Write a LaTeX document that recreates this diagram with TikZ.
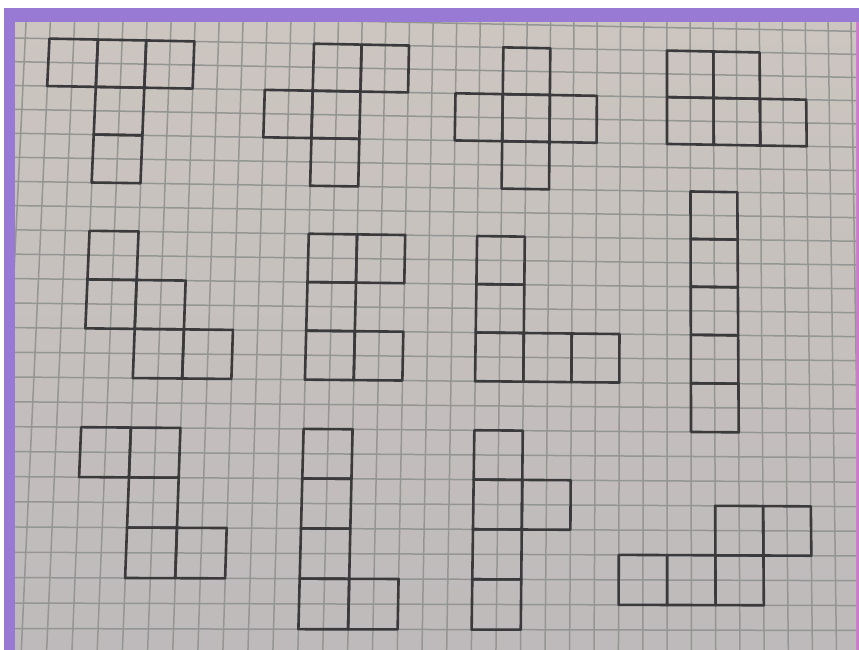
\documentclass[tikz,border=0pt]{standalone}
\usepackage{xcolor}
\usepackage{tikz}

\definecolor{papertop}{RGB}{204,197,192}
\definecolor{paperbot}{RGB}{190,186,187}
\definecolor{gridgray}{RGB}{148,150,147}
\definecolor{ink}{RGB}{58,57,60}
\definecolor{desk}{RGB}{152,121,212}
\definecolor{deskedge}{RGB}{205,120,205}

\tikzset{declare function={
  px(\k,\m)=3.56-1.223*(\m)+23.59*(\k)+0.044*(\k)*(\m)+0.02*((\k)-4)*(34-(\k));
  py(\k,\m)=37.7+0.46*(\k)+(23.654-0.0168*(\k))*(\m)+0.04*(\m)*(\m);}}

\newcommand{\cell}[2]{%
  \draw[pen] ({px(#1,#2)},{py(#1,#2)}) -- ({px(#1+2,#2)},{py(#1+2,#2)})
    -- ({px(#1+2,#2+2)},{py(#1+2,#2+2)}) -- ({px(#1,#2+2)},{py(#1,#2+2)}) -- cycle;}

\begin{document}
\begin{tikzpicture}[
    x=1pt, y=-1pt,
    gridline/.style={draw=gridgray, line width=1.5pt},
    pen/.style={draw=ink, line width=2.6pt, line join=round, line cap=round}
  ]
    \useasboundingbox (0,0) rectangle (859,649);
    \fill[white] (0,0) rectangle (859,649);
    \fill[desk] (4,8) rectangle (859,652);
    \fill[deskedge] (856,22) rectangle (859,652);
    \shade[top color=papertop, bottom color=paperbot] (15,22) rectangle (856,652);
    \begin{scope}
      \clip (15,22) rectangle (856,652);
      \foreach \k in {-1,...,37}
        \draw[gridline] ({px(\k,-2)},{py(\k,-2)}) -- ({px(\k,26)},{py(\k,26)});
      \foreach \m in {-2,...,26}
        \draw[gridline] ({px(-1,\m)},{py(-1,\m)}) -- ({px(37,\m)},{py(37,\m)});
    \end{scope}
    % top row
    \foreach \k/\m in {2/0,4/0,6/0,4/2,4/4} \cell{\k}{\m};
    \foreach \k/\m in {13/0,15/0,11/2,13/2,13/4} \cell{\k}{\m};
    \foreach \k/\m in {21/0,19/2,21/2,23/2,21/4} \cell{\k}{\m};
    \foreach \k/\m in {28/0,30/0,28/2,30/2,32/2} \cell{\k}{\m};
    % middle row
    \foreach \k/\m in {4/8,4/10,6/10,6/12,8/12} \cell{\k}{\m};
    \foreach \k/\m in {13/8,15/8,13/10,13/12,15/12} \cell{\k}{\m};
    \foreach \k/\m in {20/8,20/10,20/12,22/12,24/12} \cell{\k}{\m};
    \foreach \m in {6,8,10,12,14} \cell{29}{\m};
    % bottom row
    \foreach \k/\m in {4/16,6/16,6/18,6/20,8/20} \cell{\k}{\m};
    \foreach \k/\m in {13/16,13/18,13/20,13/22,15/22} \cell{\k}{\m};
    \foreach \k/\m in {20/16,20/18,20/20,20/22,22/18} \cell{\k}{\m};
    \foreach \k/\m in {30/19,32/19,26/21,28/21,30/21} \cell{\k}{\m};
  \end{tikzpicture}
\end{document}
